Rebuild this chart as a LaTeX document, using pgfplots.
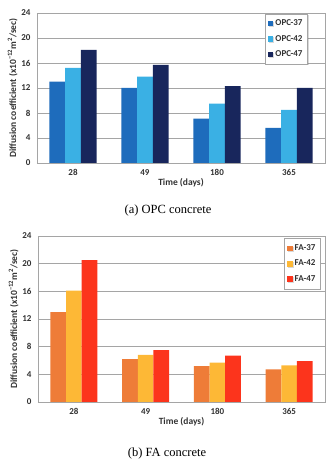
\documentclass[border=0pt]{standalone}
\usepackage{fontspec}
\setmainfont{Carlito}
\newfontfamily\capfont{Liberation Serif}
\usepackage{pgfplots}
\pgfplotsset{compat=1.18}
\usetikzlibrary{shadows}
\definecolor{b1}{RGB}{30,108,188}
\definecolor{b2}{RGB}{58,176,228}
\definecolor{b3}{RGB}{24,38,92}
\definecolor{f1}{RGB}{238,124,56}
\definecolor{f2}{RGB}{253,184,54}
\definecolor{f3}{RGB}{252,52,28}
\definecolor{gridgray}{RGB}{165,165,165}
\definecolor{txt}{RGB}{50,50,50}
\pgfplotsset{
  mystyle/.style={
    scale only axis, anchor=south west,
    ybar=0pt, bar width=15.7pt,
    xmin=-0.5, xmax=3.5, ymin=0, ymax=24,
    ytick={0,4,...,24},
    xtick={0,1,2,3}, xticklabels={28,49,180,365},
    major tick length=0pt,
    ymajorgrids, grid style={gridgray, line width=0.6pt},
    axis line style={gridgray, line width=0.6pt},
    tick label style={font=\fontsize{9}{10}\selectfont\bfseries, text=txt},
    yticklabel style={xshift=-3pt},
    xticklabel style={yshift=-3pt},
    /pgf/number format/assume math mode=true,
    xlabel={Time (days)},
    ylabel={Diffusion coefficient (x10\textsuperscript{−12}m\textsuperscript{2}/sec)},
    label style={font=\fontsize{9.5}{10}\selectfont\bfseries, text=txt},
    xlabel style={yshift=4pt},
    ylabel style={yshift=-3pt},
    legend cell align=left,
    legend style={font=\fontsize{9}{10}\selectfont\bfseries, text=txt, draw=gridgray, fill=white,
      drop shadow={shadow xshift=1pt, shadow yshift=-1pt, opacity=0.3},
      row sep=4pt, inner xsep=3pt, inner ysep=4pt},
    legend image code/.code={\fill[#1] (0pt,-2.8pt) rectangle (5.6pt,2.8pt);},
    every axis plot/.append style={draw=none},
  }
}
\begin{document}
\begin{tikzpicture}
\useasboundingbox (0,0) rectangle (327pt,464pt);
\begin{axis}[mystyle, at={(37pt,301pt)}, width=288pt, height=150pt,
  legend style={at={(0.94,0.995)}, anchor=north east}]
\addplot[fill=b1] coordinates {(0,13.0) (1,12.0) (2,7.1) (3,5.6)};
\addplot[fill=b2] coordinates {(0,15.2) (1,13.8) (2,9.5) (3,8.5)};
\addplot[fill=b3] coordinates {(0,18.1) (1,15.7) (2,12.3) (3,12.0)};
\legend{OPC-37,OPC-42,OPC-47}
\end{axis}
\node[font=\capfont\fontsize{12.5}{14}\selectfont] at (168pt,254pt) {(a) OPC concrete};
\begin{axis}[mystyle, at={(38pt,62pt)}, width=287pt, height=166pt,
  legend style={at={(0.985,0.985)}, anchor=north east}]
\addplot[fill=f1] coordinates {(0,13.0) (1,6.2) (2,5.2) (3,4.7)};
\addplot[fill=f2] coordinates {(0,16.1) (1,6.8) (2,5.7) (3,5.3)};
\addplot[fill=f3] coordinates {(0,20.5) (1,7.5) (2,6.7) (3,5.9)};
\legend{FA-37,FA-42,FA-47}
\end{axis}
\node[font=\capfont\fontsize{12.5}{14}\selectfont] at (167pt,11pt) {(b) FA concrete};
\end{tikzpicture}
\end{document}
